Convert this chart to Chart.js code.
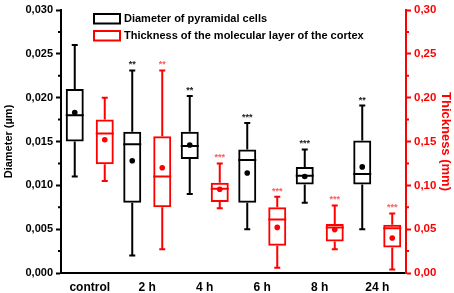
<!DOCTYPE html>
<html>
<head>
<meta charset="utf-8">
<script src="https://cdn.jsdelivr.net/npm/chart.js@4.4.1/dist/chart.umd.min.js"></script>
<style>
  html, body { margin: 0; padding: 0; background: #fff; }
  #wrap { width: 454px; height: 293px; }
</style>
</head>
<body>
<div id="wrap"><canvas id="boxChart"></canvas></div>
<script>
const categories = ['control', '2 h', '4 h', '6 h', '8 h', '24 h'];

// Diameter of pyramidal cells (left axis, µm)
const diamMin    = [0.011, 0.002, 0.009, 0.005, 0.008, 0.005];
const diamQ1     = [0.015, 0.008, 0.013, 0.008, 0.0101, 0.0101];
const diamMedian = [0.018, 0.0147, 0.0145, 0.0129, 0.0111, 0.0113];
const diamQ3     = [0.021, 0.0161, 0.0161, 0.0141, 0.0121, 0.0151];
const diamMax    = [0.026, 0.0231, 0.0202, 0.0171, 0.0141, 0.0191];
const diamMean   = [0.0183, 0.0128, 0.0146, 0.0114, 0.011, 0.0121];
const diamStars  = ['', '**', '**', '***', '***', '**'];

// Thickness of the molecular layer (right axis, mm)
const thickMin    = [0.105, 0.027, 0.074, 0.006, 0.027, 0.004];
const thickQ1     = [0.124, 0.075, 0.081, 0.031, 0.036, 0.029];
const thickMedian = [0.159, 0.110, 0.096, 0.061, 0.052, 0.051];
const thickQ3     = [0.175, 0.156, 0.103, 0.075, 0.056, 0.055];
const thickMax    = [0.200, 0.231, 0.125, 0.087, 0.077, 0.068];
const thickMean   = [0.152, 0.120, 0.0955, 0.052, 0.0495, 0.040];
const thickStars  = ['', '**', '***', '***', '***', '***'];

const FONT = "'Liberation Sans', Arial, sans-serif";
const RED = '#ff0000';

// whiskers, medians, means and stars on top of the floating bars
const boxExtras = {
    id: 'boxExtras',
    afterDatasetsDraw(chart) {
        const ctx = chart.ctx;
        chart.data.datasets.forEach((ds, di) => {
            const meta = chart.getDatasetMeta(di);
            const sc = chart.scales[ds.yAxisID];
            const s = ds.stats;
            ctx.save();
            ctx.strokeStyle = ds.borderColor;
            ctx.fillStyle = ds.borderColor;
            ctx.lineWidth = 2;
            meta.data.forEach((bar, i) => {
                const x = bar.x;
                const half = bar.width / 2;
                const yMin = sc.getPixelForValue(s.min[i]);
                const yMax = sc.getPixelForValue(s.max[i]);
                const yQ1 = sc.getPixelForValue(s.q1[i]);
                const yQ3 = sc.getPixelForValue(s.q3[i]);
                const yMed = sc.getPixelForValue(s.median[i]);
                ctx.beginPath();
                ctx.moveTo(x, yQ3); ctx.lineTo(x, yMax);
                ctx.moveTo(x, yQ1); ctx.lineTo(x, yMin);
                ctx.moveTo(x - 3, yMax); ctx.lineTo(x + 3, yMax);
                ctx.moveTo(x - 3, yMin); ctx.lineTo(x + 3, yMin);
                ctx.moveTo(x - half, yMed); ctx.lineTo(x + half, yMed);
                ctx.stroke();
                ctx.beginPath();
                ctx.arc(x, sc.getPixelForValue(s.mean[i]), 2.8, 0, Math.PI * 2);
                ctx.fill();
                if (s.stars[i]) {
                    ctx.fillStyle = ds.starColor;
                    ctx.font = 'bold 9px ' + FONT;
                    ctx.textAlign = 'center';
                    ctx.textBaseline = 'alphabetic';
                    ctx.fillText(s.stars[i], x, yMax - 3);
                    ctx.fillStyle = ds.borderColor;
                }
            });
            ctx.restore();
        });
    },
    afterDraw(chart) {
        const ctx = chart.ctx;
        ctx.save();
        ctx.lineWidth = 2;
        // minor ticks
        const yL = chart.scales.y, yR = chart.scales.y2;
        ctx.strokeStyle = '#000';
        ctx.beginPath();
        for (let v = 0.0025; v < 0.03; v += 0.005) {
            const p = yL.getPixelForValue(v);
            ctx.moveTo(yL.right - 3, p); ctx.lineTo(yL.right, p);
        }
        ctx.stroke();
        ctx.strokeStyle = RED;
        ctx.beginPath();
        for (let v = 0.025; v < 0.3; v += 0.05) {
            const p = yR.getPixelForValue(v);
            ctx.moveTo(yR.left, p); ctx.lineTo(yR.left + 3, p);
        }
        ctx.stroke();
        // legend
        const items = chart.data.datasets;
        ctx.font = 'bold 11px ' + FONT;
        ctx.textBaseline = 'middle';
        ctx.textAlign = 'left';
        items.forEach((ds, k) => {
            const top = 14 + k * 17;
            ctx.strokeStyle = ds.borderColor;
            ctx.strokeRect(94, top, 26, 9.5);
            ctx.fillStyle = '#000';
            ctx.fillText(ds.label, 124, top + 5);
        });
        ctx.restore();
    }
};

const ctx = document.getElementById('boxChart').getContext('2d');
const boxChart = new Chart(ctx, {
    type: 'bar',
    data: {
        labels: categories,
        datasets: [{
            label: 'Diameter of pyramidal cells',
            data: categories.map((c, i) => [diamQ1[i], diamQ3[i]]),
            yAxisID: 'y',
            backgroundColor: 'rgba(0,0,0,0)',
            borderColor: '#000',
            borderWidth: 2,
            borderSkipped: false,
            starColor: '#222',
            stats: { min: diamMin, q1: diamQ1, median: diamMedian, q3: diamQ3, max: diamMax, mean: diamMean, stars: diamStars }
        }, {
            label: 'Thickness of the molecular layer of the cortex',
            data: categories.map((c, i) => [thickQ1[i], thickQ3[i]]),
            yAxisID: 'y2',
            backgroundColor: 'rgba(0,0,0,0)',
            borderColor: RED,
            borderWidth: 2,
            borderSkipped: false,
            starColor: '#ff5a5a',
            stats: { min: thickMin, q1: thickQ1, median: thickMedian, q3: thickQ3, max: thickMax, mean: thickMean, stars: thickStars }
        }]
    },
    options: {
        responsive: true,
        maintainAspectRatio: false,
        animation: false,
        categoryPercentage: 1.0435,
        barPercentage: 0.6,
        layout: { padding: { top: 10, left: 0, right: 0, bottom: 0 } },
        plugins: {
            legend: { display: false },
            tooltip: { enabled: false }
        },
        scales: {
            x: {
                grid: { display: true, drawOnChartArea: false, drawTicks: false },
                border: { color: '#000', width: 2 },
                ticks: { color: '#000', padding: 7, font: { family: FONT, size: 12, weight: 'bold' } },
                afterFit: s => { s.height = 20; }
            },
            y: {
                position: 'left',
                min: 0,
                max: 0.03,
                grid: { drawOnChartArea: false, tickLength: 5, tickWidth: 2, tickColor: '#000' },
                border: { color: '#000', width: 2 },
                ticks: {
                    stepSize: 0.005,
                    color: '#000',
                    padding: 3,
                    font: { family: FONT, size: 11, weight: 'bold' },
                    callback: v => v.toFixed(3).replace('.', ',')
                },
                title: {
                    display: true,
                    text: 'Diameter (µm)',
                    color: '#000',
                    padding: { top: 2, bottom: 0 },
                    font: { family: FONT, size: 11, weight: 'bold' }
                },
                afterFit: s => { s.width = 61; }
            },
            y2: {
                position: 'right',
                min: 0,
                max: 0.3,
                grid: { drawOnChartArea: false, tickLength: 5, tickWidth: 2, tickColor: RED },
                border: { color: RED, width: 2 },
                ticks: {
                    stepSize: 0.05,
                    color: RED,
                    padding: 3,
                    font: { family: FONT, size: 11.5, weight: 'bold' },
                    callback: v => v.toFixed(2).replace('.', ',')
                },
                title: {
                    display: true,
                    text: 'Thickness (mm)',
                    color: RED,
                    padding: { top: 1, bottom: 0 },
                    font: { family: FONT, size: 13, weight: 'bold' }
                },
                afterFit: s => { s.width = 48; }
            }
        }
    },
    plugins: [boxExtras]
});
</script>
</body>
</html>
